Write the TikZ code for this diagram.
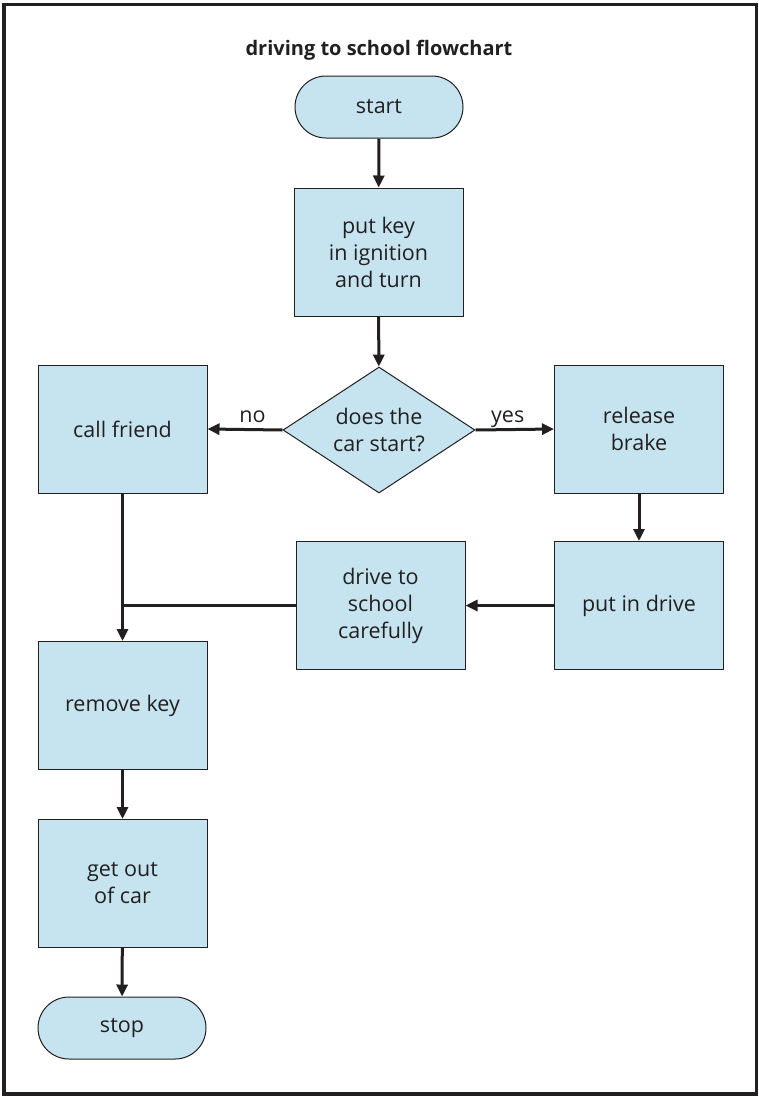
\documentclass[tikz,border=0pt]{standalone}
\usepackage{fontspec}
\setmainfont{Open Sans}
\usetikzlibrary{shapes.geometric,arrows.meta}
\definecolor{boxfill}{RGB}{197,228,239}
\definecolor{ink}{RGB}{35,31,32}
\begin{document}
\begin{tikzpicture}[x=1pt,y=-1pt,
  every node/.style={font=\fontsize{21.5}{27}\selectfont, text=ink, align=center},
  box/.style={draw=ink, line width=1pt, fill=boxfill, minimum width=169pt,
    minimum height=128pt, inner sep=0pt},
  terminal/.style={draw=ink, line width=1pt, fill=boxfill, rounded corners=31pt,
    minimum width=168pt, minimum height=62pt, inner sep=0pt},
  decision/.style={draw=ink, line width=1pt, fill=boxfill, diamond, aspect=1.52,
    minimum width=192pt, minimum height=126pt, inner sep=0pt},
  flow/.style={draw=ink, line width=3pt, -{Triangle[length=12pt,width=11pt]}},
  plain/.style={draw=ink, line width=3pt},
  lbl/.style={inner sep=0pt, anchor=base, yshift=7pt}]
\useasboundingbox (0,0) rectangle (759,1096);
\draw[ink, line width=3.5pt] (3.8,4.5) rectangle (756.5,1094);

\node[font=\fontsize{20}{24}\selectfont\bfseries] (title) at (379,50) {driving to school flowchart};

\node[terminal] (start) at (379,107) {start};
\node[box] (key) at (378.5,252) {put key\\in ignition\\and turn};
\node[decision] (dec) at (379,430) {does the\\car start?};
\node[box] (friend) at (122.5,429) {call friend};
\node[box] (brake) at (639,429) {release\\brake};
\node[box] (drive) at (639,605.5) {put in drive};
\node[box] (careful) at (380.5,605.5) {drive to\\school\\carefully};
\node[box] (remove) at (122.5,705.5) {remove key};
\node[box] (getout) at (122.5,883.5) {get out\\of car};
\node[terminal] (stop) at (122,1028) {stop};

\draw[flow] (start) -- (key);
\draw[flow] (key) -- (dec);
\draw[flow] (dec.west) -- (friend.east) node[lbl, pos=0.4] {no};
\draw[flow] (dec.east) -- (brake.west) node[lbl, pos=0.41] {yes};
\draw[flow] (brake) -- (drive);
\draw[flow] (drive) -- (careful);
\coordinate (join) at (friend.south |- careful.west);
\draw[plain] (careful.west) -- (join);
\draw[flow] (friend) -- (remove);
\draw[flow] (remove) -- (getout);
\draw[flow] (getout) -- (stop);
\end{tikzpicture}
\end{document}
